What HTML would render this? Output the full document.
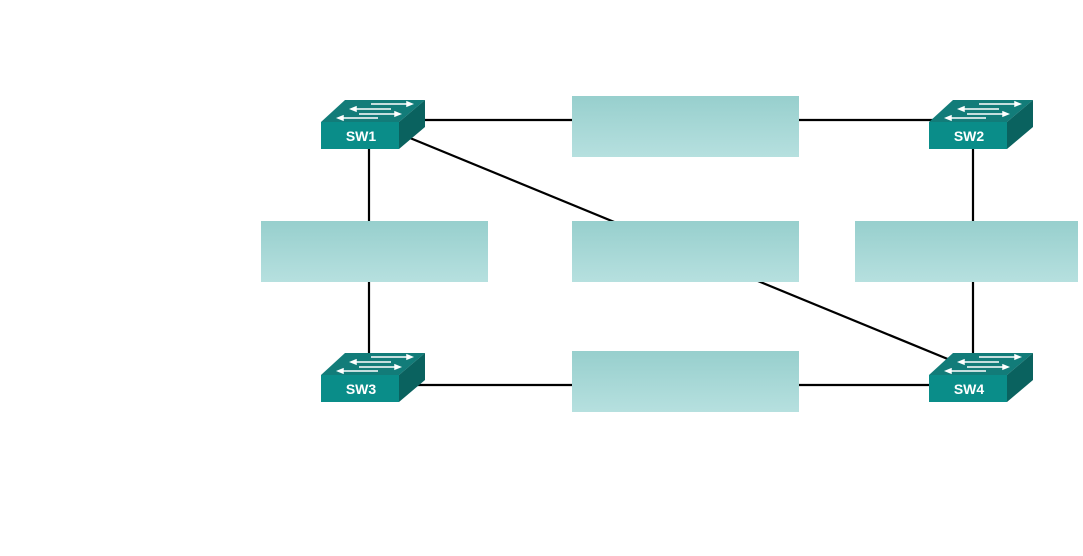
<!DOCTYPE html>
<html><head><style>
body{margin:0;background:#fff;}
</style></head><body>
<svg width="1083" height="556" xmlns="http://www.w3.org/2000/svg" style="display:block">
<defs>
<linearGradient id="g" x1="0" y1="0" x2="0" y2="1"><stop offset="0" stop-color="#97cfcd"/><stop offset="1" stop-color="#b6e0df"/></linearGradient>
<g id="sw">
<polygon points="0,22 24,0 104,0 78,22" fill="#127c79"/>
<polygon points="78,22 104,0 104,27 78,49" fill="#0a625f"/>
<rect x="0" y="22" width="78" height="27" fill="#0a8d89"/>
<g stroke="#fff" stroke-width="1.5" fill="#fff">
<line x1="50" y1="4" x2="86" y2="4"/><polygon points="86,2 91,4 86,6"/>
<line x1="35" y1="9" x2="70" y2="9"/><polygon points="35,7 30,9 35,11"/>
<line x1="38" y1="14" x2="74" y2="14"/><polygon points="74,12 79,14 74,16"/>
<line x1="22" y1="18" x2="57" y2="18"/><polygon points="22,16 17,18 22,20"/>
</g>
</g>
</defs>
<g stroke="#000" stroke-width="2.2" fill="none">
<line x1="420" y1="120" x2="935" y2="120"/>
<line x1="369" y1="145" x2="369" y2="358"/>
<line x1="973" y1="145" x2="973" y2="358"/>
<line x1="410" y1="385" x2="935" y2="385"/>
<line x1="410" y1="138" x2="955" y2="362"/>
</g>
<rect x="572" y="96" width="227" height="61" fill="url(#g)"/>
<rect x="261" y="221" width="227" height="61" fill="url(#g)"/>
<rect x="572" y="221" width="227" height="61" fill="url(#g)"/>
<rect x="855" y="221" width="223" height="61" fill="url(#g)"/>
<rect x="572" y="351" width="227" height="61" fill="url(#g)"/>
<use href="#sw" x="321" y="100"/>
<use href="#sw" x="929" y="100"/>
<use href="#sw" x="321" y="353"/>
<use href="#sw" x="929" y="353"/>
<g font-family="Liberation Sans, sans-serif" font-weight="bold" font-size="14" fill="#fff" text-anchor="middle">
<text x="361" y="141">SW1</text>
<text x="969" y="141">SW2</text>
<text x="361" y="394">SW3</text>
<text x="969" y="394">SW4</text>
</g>
</svg>
</body></html>
